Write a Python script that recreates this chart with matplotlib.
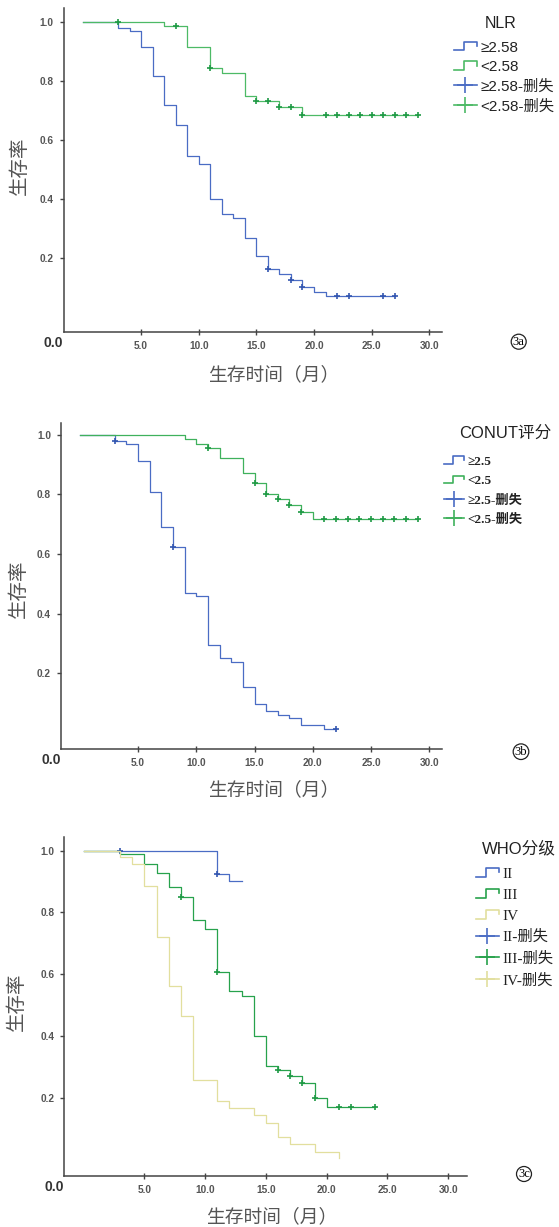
import matplotlib
matplotlib.use("Agg")
import matplotlib.pyplot as plt
import matplotlib.transforms as mtrans
from matplotlib.lines import Line2D
from matplotlib.legend_handler import HandlerBase
from matplotlib.font_manager import FontProperties
import numpy as np

# ---- 3a: NLR ----
nlr_hi_t = [0, 3, 4, 5, 6, 7, 8, 9, 10, 11, 12, 13, 14, 15, 16, 17, 18, 19, 20, 21, 27]
nlr_hi_s = [1.0, 0.98, 0.968, 0.914, 0.815, 0.717, 0.652, 0.544, 0.52, 0.40, 0.348, 0.334,
            0.269, 0.205, 0.162, 0.147, 0.126, 0.101, 0.086, 0.071, 0.071]
nlr_hi_cens = [16, 18, 19, 22, 23, 26, 27]
nlr_lo_t = [0, 7, 9, 11, 12, 14, 15, 17, 19, 29]
nlr_lo_s = [1.0, 0.985, 0.915, 0.842, 0.826, 0.749, 0.733, 0.71, 0.683, 0.683]
nlr_lo_cens = [3, 8, 11, 15, 16, 17, 18, 19, 21, 22, 23, 24, 25, 26, 27, 28, 29]
nlr_labels = ["≥2.58", "<2.58", "≥2.58-删失", "<2.58-删失"]

# ---- 3b: CONUT ----
conut_hi_t = [0, 3, 4, 5, 6, 7, 8, 9, 10, 11, 12, 13, 14, 15, 16, 17, 18, 19, 21, 22]
conut_hi_s = [1.0, 0.978, 0.968, 0.91, 0.807, 0.69, 0.623, 0.47, 0.459, 0.294, 0.25, 0.237,
              0.154, 0.096, 0.074, 0.06, 0.049, 0.027, 0.013, 0.013]
conut_hi_cens = [3, 8, 22]
conut_lo_t = [0, 9, 10, 11, 12, 14, 15, 16, 17, 18, 19, 20, 29]
conut_lo_s = [1.0, 0.984, 0.97, 0.954, 0.92, 0.871, 0.838, 0.8, 0.783, 0.763, 0.74, 0.716, 0.716]
conut_lo_cens = [11, 15, 16, 17, 18, 19, 21, 22, 23, 24, 25, 26, 27, 28, 29]
conut_labels = ["≥2.5", "<2.5", "≥2.5-删失", "<2.5-删失"]

# ---- 3c: WHO grade ----
who2_t = [0, 11, 12, 13]
who2_s = [1.0, 0.925, 0.902, 0.902]
who2_cens = [3, 11]
who3_t = [0, 3, 5, 6, 7, 8, 9, 10, 11, 12, 13, 14, 15, 16, 17, 18, 19, 20, 24]
who3_s = [1.0, 0.988, 0.957, 0.927, 0.882, 0.85, 0.776, 0.746, 0.608, 0.544, 0.529, 0.40,
          0.303, 0.289, 0.27, 0.247, 0.199, 0.17, 0.17]
who3_cens = [8, 11, 16, 17, 18, 19, 21, 22, 24]
who4_t = [0, 3, 4, 5, 6, 7, 8, 9, 11, 12, 14, 15, 16, 17, 19, 21]
who4_s = [1.0, 0.98, 0.958, 0.886, 0.721, 0.56, 0.465, 0.258, 0.188, 0.166, 0.142, 0.118,
          0.072, 0.05, 0.025, 0.004]
who4_cens = []
who_labels = ["II", "III", "IV", "II-删失", "III-删失", "IV-删失"]

x_ticks = [5, 10, 15, 20, 25, 30]
y_ticks = [0.2, 0.4, 0.6, 0.8, 1.0]

BLUE = "#4a6cc4"
BLUE_M = "#3356b0"
GREEN = "#4dba66"
GREEN_M = "#1f9a45"
YELLOW = "#e2df9e"

SANS = ["Liberation Sans", "Noto Sans CJK SC"]
SERIF = ["Liberation Serif", "Noto Sans CJK SC"]


class StepHandler(HandlerBase):
    def create_artists(self, legend, orig, xdescent, ydescent, width, height, fontsize, trans):
        xs = np.array([0, 0.45, 0.45, 1.0, 1.0]) * width - xdescent
        ys = np.array([0.1, 0.1, 0.9, 0.9, 0.5]) * height - ydescent
        return [Line2D(xs, ys, color=orig.get_color(), lw=orig.get_linewidth(), transform=trans)]


def surv_at(t, s, x):
    idx = np.searchsorted(t, x, side="right") - 1
    return np.asarray(s)[idx]


def km_panel(ax, curves, xlim, ylim, xlab, ylab):
    for t, s, cens, color, mcolor in curves:
        ax.step(t, s, where="post", color=color, lw=0.9)
        if len(cens):
            ax.plot(cens, surv_at(t, s, cens), ls="none", marker="+", ms=4.5,
                    mew=1.2, color=mcolor)
    ax.set_xlim(*xlim)
    ax.set_ylim(*ylim)
    ax.set_xticks(x_ticks)
    ax.set_xticklabels([f"{v:.1f}" for v in x_ticks])
    ax.set_yticks(y_ticks)
    ax.set_yticklabels([f"{v:.1f}" for v in y_ticks])
    for sp in ["top", "right"]:
        ax.spines[sp].set_visible(False)
    for sp in ["left", "bottom"]:
        ax.spines[sp].set_color("#444444")
        ax.spines[sp].set_linewidth(1.1)
    ax.tick_params(axis="x", direction="inout", length=5, width=1, color="#444444", pad=4)
    ax.tick_params(axis="y", direction="out", length=3, width=1, color="#444444", pad=4)
    for lab in ax.get_xticklabels() + ax.get_yticklabels():
        lab.set_fontfamily("Liberation Sans")
        lab.set_fontweight("bold")
        lab.set_fontsize(7.3)
        lab.set_color("#555555")
    off = mtrans.offset_copy(ax.transAxes, fig=ax.figure, x=0, y=-4, units="dots")
    ax.text(0, 0, "0.0", transform=off, ha="right", va="top", fontsize=10,
            fontweight="bold", family="Liberation Sans", color="#333333")
    ax.set_xlabel("生存时间（月）", family=["Noto Sans CJK SC"], fontsize=13.5,
                  color="#555555", fontweight="light")
    ax.set_ylabel("生存率", family=["Noto Sans CJK SC"], fontsize=14,
                  color="#555555", fontweight="light")
    ax.xaxis.set_label_coords(*xlab)
    ax.yaxis.set_label_coords(*ylab)


def add_legend(ax, fig, colors, labels, anchor, prop, spacing):
    step_h = [Line2D([], [], color=c, lw=1.2) for c in colors]
    cens_h = [Line2D([], [], color=c, lw=1.2, marker="+", ms=11, mew=1.2) for c in colors]
    hmap = {h: StepHandler() for h in step_h}
    leg = ax.legend(step_h + cens_h, labels, loc="upper left",
                    bbox_to_anchor=anchor, bbox_transform=fig.transFigure, frameon=False,
                    handler_map=hmap, prop=prop,
                    handlelength=1.5, handletextpad=0.25, labelspacing=spacing,
                    borderpad=0, borderaxespad=0)
    for txt in leg.get_texts():
        txt.set_color("#222222")
    return leg


def fig_text(fig, x, y, text, **kw):
    return fig.text(x / 559, 1 - y / 1227, text, ha="center", va="center", **kw)


def panel_tag(fig, x, y, text):
    fig_text(fig, x, y, text, fontsize=9, family="Liberation Serif",
             bbox=dict(boxstyle="circle,pad=0.12", fc="none", ec="#222222", lw=0.9))


fig = plt.figure(figsize=(5.59, 12.27), dpi=100)

# panel a
ax1 = fig.add_axes([63.5 / 559, 1 - 332.3 / 1227, (442 - 63.5) / 559, (332.3 - 8.3) / 1227])
km_panel(ax1,
         [(nlr_hi_t, nlr_hi_s, nlr_hi_cens, BLUE, BLUE_M),
          (nlr_lo_t, nlr_lo_s, nlr_lo_cens, GREEN, GREEN_M)],
         (-1.73, 31.1), (-0.052, 1.046), (0.556, -0.097), (-0.09, 0.515))
add_legend(ax1, fig, [BLUE, GREEN], nlr_labels, (454 / 559, 1 - 40.5 / 1227),
           FontProperties(family=SANS, size=11), 0.36)
fig_text(fig, 501, 24, "NLR", family=SANS, fontsize=11.5, color="#222222")
panel_tag(fig, 518.7, 341.7, "3a")

# panel b
ax2 = fig.add_axes([60.6 / 559, 1 - 749 / 1227, (442 - 60.6) / 559, (749 - 422.7) / 1227])
km_panel(ax2,
         [(conut_hi_t, conut_hi_s, conut_hi_cens, BLUE, BLUE_M),
          (conut_lo_t, conut_lo_s, conut_lo_cens, "#3fb15c", GREEN_M)],
         (-1.65, 31.1), (-0.054, 1.04), (0.559, -0.092), (-0.083, 0.49))
add_legend(ax2, fig, [BLUE, "#3fb15c"], conut_labels, (444 / 559, 1 - 455.5 / 1227),
           FontProperties(family=SERIF, size=9.5, weight="bold"), 0.54)
fig_text(fig, 505, 433, "CONUT评分", family=SANS, fontsize=12, color="#222222")
panel_tag(fig, 521, 751.7, "3b")

# panel c
ax3 = fig.add_axes([64.2 / 559, 1 - 1176 / 1227, (467 - 64.2) / 559, (1176 - 837.3) / 1227])
km_panel(ax3,
         [(who2_t, who2_s, who2_cens, BLUE, BLUE_M),
          (who3_t, who3_s, who3_cens, "#27a24c", GREEN_M),
          (who4_t, who4_s, who4_cens, YELLOW, YELLOW)],
         (-1.6, 31.55), (-0.054, 1.043), (0.514, -0.09), (-0.092, 0.515))
add_legend(ax3, fig, [BLUE, "#27a24c", YELLOW], who_labels, (476 / 559, 1 - 867 / 1227),
           FontProperties(family=SERIF, size=11), 0.48)
fig_text(fig, 519, 849, "WHO分级", family=SANS, fontsize=12, color="#222222")
panel_tag(fig, 524, 1174, "3c")

fig.savefig("out.png", dpi=100, facecolor="white")
